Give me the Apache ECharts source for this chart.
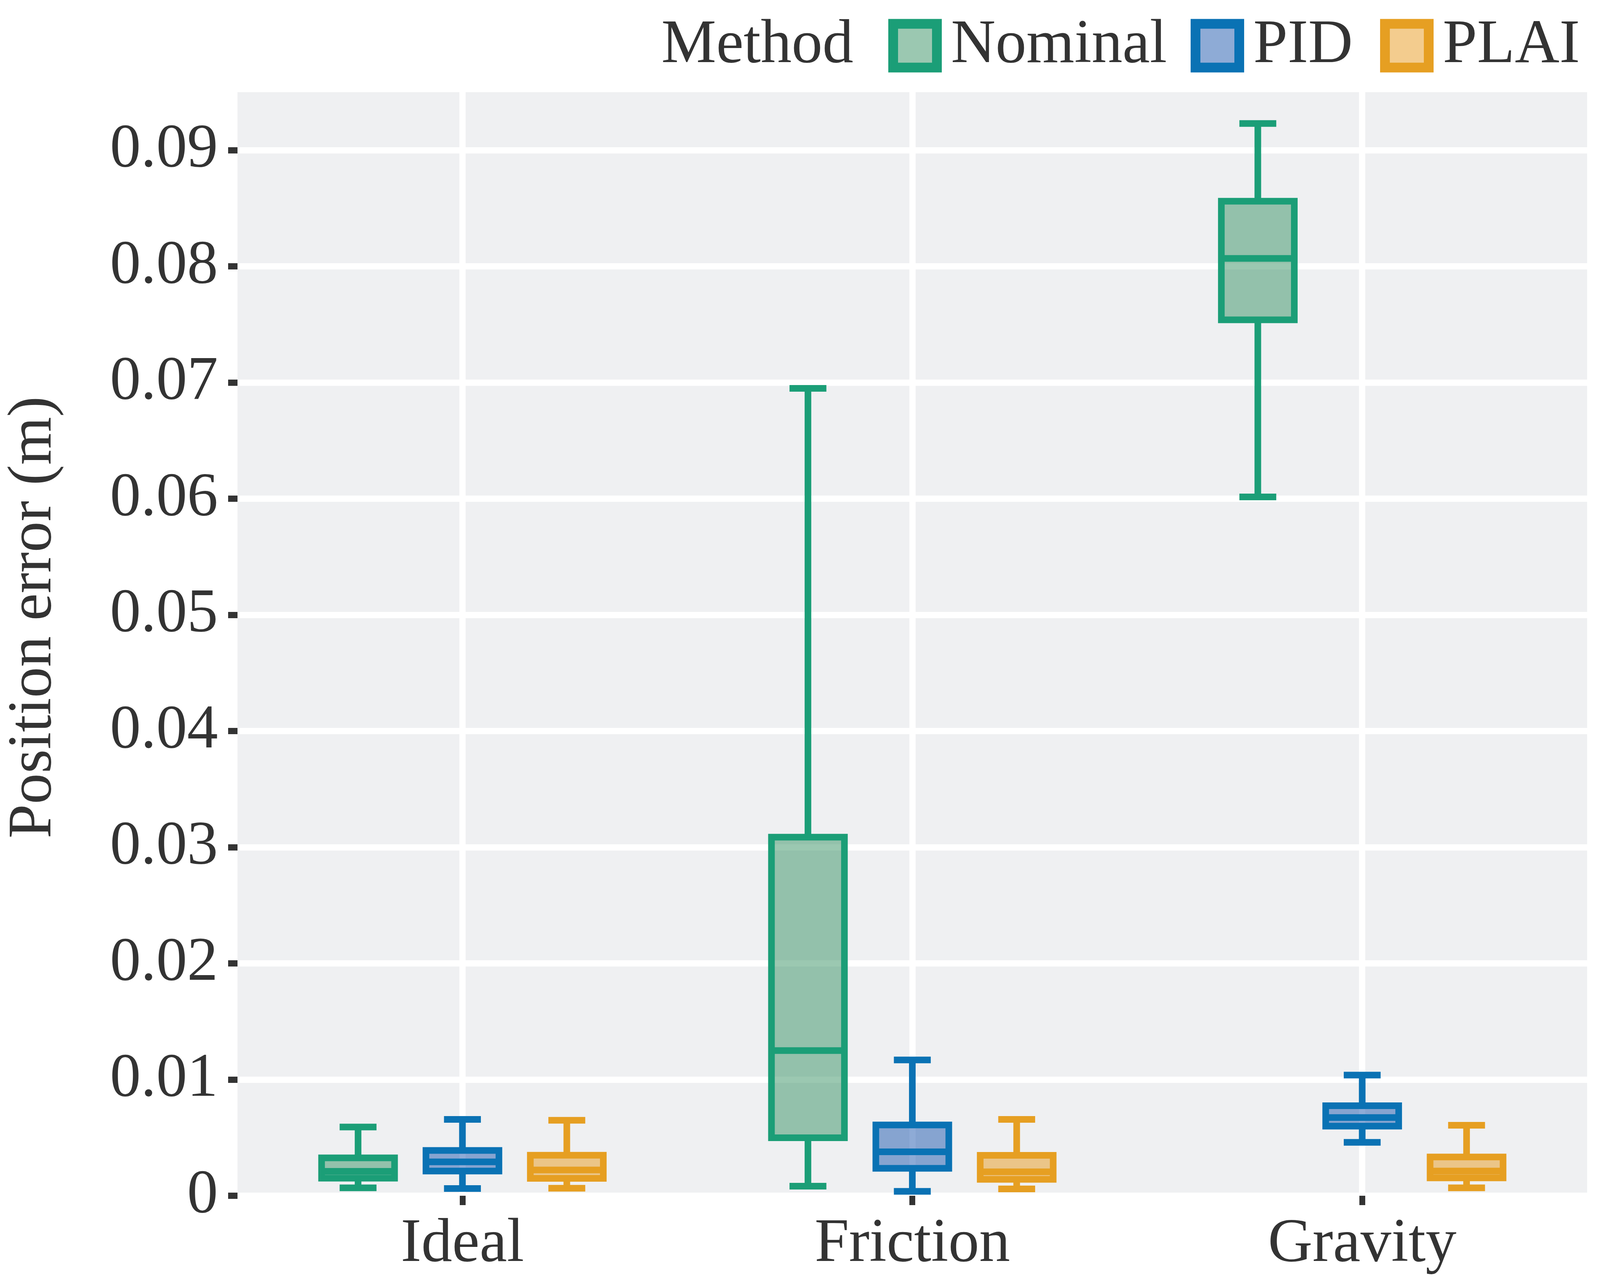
<!DOCTYPE html>
<html>
<head>
<meta charset="utf-8">
<script src="https://cdn.jsdelivr.net/npm/echarts@6/dist/echarts.min.js"></script>
<style>html,body{margin:0;padding:0;background:#ffffff;overflow:hidden}#chart{width:100vw;height:100vh}</style>
</head>
<body>
<div id="chart"></div>
<script>
// ---- data ----
const categories = ['Ideal', 'Friction', 'Gravity'];
const methods = ['Nominal', 'PID', 'PLAI'];
// each row: [lower whisker, Q1, median, Q3, upper whisker]
const nominalStats = [
  [0.00068, 0.00151, 0.00210, 0.00326, 0.00592],
  [0.00082, 0.00499, 0.01250, 0.03087, 0.06950],
  [0.06016, 0.07540, 0.08069, 0.08561, 0.09230]
];
const pidStats = [
  [0.00062, 0.00213, 0.00292, 0.00390, 0.00657],
  [0.00038, 0.00236, 0.00378, 0.00609, 0.01169],
  [0.00460, 0.00599, 0.00673, 0.00775, 0.01039]
];
const plaiStats = [
  [0.00065, 0.00150, 0.00222, 0.00349, 0.00650],
  [0.00059, 0.00141, 0.00206, 0.00348, 0.00657],
  [0.00068, 0.00154, 0.00213, 0.00334, 0.00607]
];
const yTicks = [0, 0.01, 0.02, 0.03, 0.04, 0.05, 0.06, 0.07, 0.08, 0.09];

// ---- layout / styling (reference designed at 5100 x 3288) ----
const el = document.getElementById('chart');
const W = el.clientWidth || window.innerWidth;
const H = el.clientHeight || window.innerHeight;
const sy = H / 3288;
const FONT = "'Liberation Serif', 'Times New Roman', serif";
const FS = Math.round(158 * sy);
const TXT = '#333333';
const LINE_COLORS = ['#1B9E77', '#0A72B4', '#E69F22'];
const FILL_COLORS = ['rgba(56,146,100,0.5)', 'rgba(30,88,174,0.5)', 'rgba(231,154,30,0.5)'];
const OFFSETS = [-0.232, 0, 0.232];
const BOX_HALF = 0.0811;
const CAP_HALF = 0.041;
const LW = 17 * sy;
// distance of each legend piece from the right edge in the reference
const legendFromRight = [5100 - 3278, 5100 - 4052, 5100 - 4537];
const methodFromRight = 5100 - 2697;

function makeRender(idx) {
  return function (params, api) {
    const ci = api.value(0);
    const band = api.size([1, 0])[0];
    const cx = api.coord([ci, 0])[0] + OFFSETS[idx] * band;
    const yy = k => api.coord([ci, api.value(k)])[1];
    const yLow = yy(1), yQ1 = yy(2), yMed = yy(3), yQ3 = yy(4), yHigh = yy(5);
    const hw = BOX_HALF * band, cw = CAP_HALF * band;
    const ls = { stroke: LINE_COLORS[idx], lineWidth: LW, fill: null, lineCap: 'butt' };
    return {
      type: 'group',
      children: [
        { type: 'line', shape: { x1: cx, y1: yHigh, x2: cx, y2: yQ3 }, style: ls },
        { type: 'line', shape: { x1: cx, y1: yQ1, x2: cx, y2: yLow }, style: ls },
        { type: 'line', shape: { x1: cx - cw, y1: yHigh, x2: cx + cw, y2: yHigh }, style: ls },
        { type: 'line', shape: { x1: cx - cw, y1: yLow, x2: cx + cw, y2: yLow }, style: ls },
        { type: 'rect', shape: { x: cx - hw, y: yQ3, width: 2 * hw, height: yQ1 - yQ3 },
          style: { fill: FILL_COLORS[idx], stroke: LINE_COLORS[idx], lineWidth: LW } },
        { type: 'line', shape: { x1: cx - hw, y1: yMed, x2: cx + hw, y2: yMed }, style: ls }
      ]
    };
  };
}

const allStats = [nominalStats, pidStats, plaiStats];
const series = methods.map((m, i) => ({
  name: m,
  type: 'custom',
  renderItem: makeRender(i),
  encode: { x: 0, y: [1, 2, 3, 4, 5] },
  itemStyle: { color: FILL_COLORS[i], borderColor: LINE_COLORS[i] },
  data: categories.map((c, j) => [c].concat(allStats[i][j]))
}));

const legends = methods.map((m, i) => ({
  left: W - legendFromRight[i] * sy,
  top: 38 * sy,
  padding: 0,
  icon: 'rect',
  itemWidth: 112 * sy,
  itemHeight: 112 * sy,
  selectedMode: false,
  textStyle: { fontFamily: FONT, fontSize: FS, color: TXT, lineHeight: FS, padding: [0, 0, 0, 31 * sy] },
  data: [{ name: m, itemStyle: { color: FILL_COLORS[i], borderColor: LINE_COLORS[i], borderWidth: 25 * sy } }]
}));

const chart = echarts.init(el, null, { renderer: 'canvas' });
chart.setOption({
  animation: false,
  backgroundColor: '#ffffff',
  textStyle: { fontFamily: FONT },
  title: {
    text: 'Method',
    left: W - methodFromRight * sy,
    top: 38 * sy,
    padding: 0,
    textStyle: { fontFamily: FONT, fontSize: FS, fontWeight: 'normal', color: TXT, lineHeight: FS }
  },
  legend: legends,
  grid: {
    left: 600 * sy, right: 41 * W / 5100, top: 236 * sy, bottom: 226 * sy,
    show: true, backgroundColor: '#EFF0F2', borderWidth: 0
  },
  xAxis: {
    type: 'category',
    data: categories,
    boundaryGap: true,
    axisLine: { show: false },
    axisTick: { show: true, alignWithLabel: true, length: 24 * sy, lineStyle: { color: TXT, width: 15 * sy } },
    axisLabel: { margin: 46 * sy, fontFamily: FONT, fontSize: FS, color: TXT, lineHeight: FS },
    splitLine: { show: true, alignWithLabel: true, lineStyle: { color: '#ffffff', width: 16 * sy } }
  },
  yAxis: {
    type: 'value',
    min: 0,
    max: 0.095,
    name: 'Position error (m)',
    nameLocation: 'middle',
    nameRotate: 90,
    nameGap: 442 * sy,
    nameTextStyle: { fontFamily: FONT, fontSize: FS, color: TXT, lineHeight: FS, padding: [0, 0, 0, 136 * sy] },
    axisLine: { show: false },
    axisTick: { show: true, length: 24 * sy, customValues: yTicks, lineStyle: { color: TXT, width: 16 * sy } },
    axisLabel: { margin: 50 * sy, fontFamily: FONT, fontSize: FS, color: TXT, customValues: yTicks,
      formatter: v => String(v) },
    splitLine: { show: true, lineStyle: { color: '#ffffff', width: 16 * sy } }
  },
  series: series
});
window.addEventListener('resize', () => chart.resize());
</script>
</body>
</html>
